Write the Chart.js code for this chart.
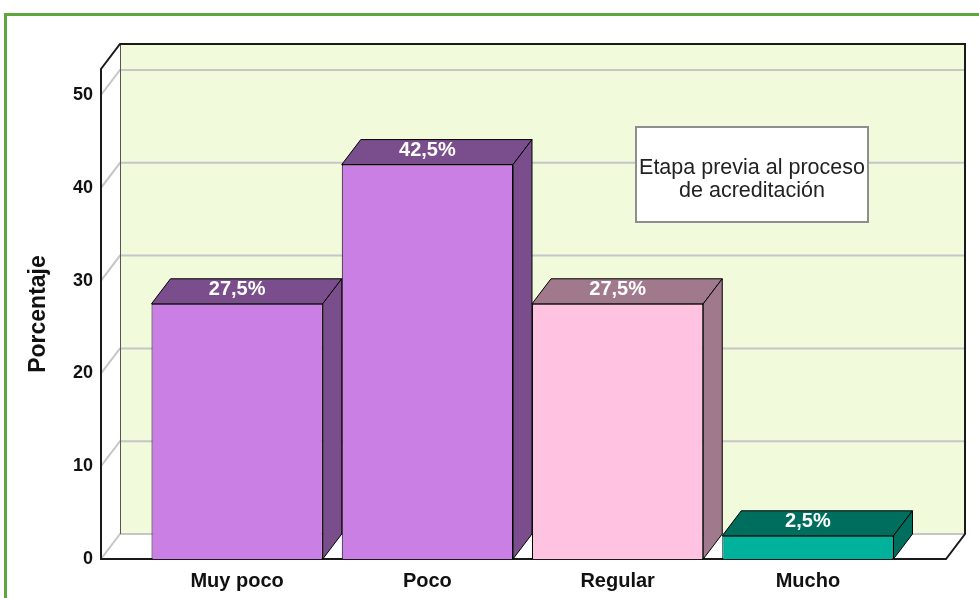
<!DOCTYPE html>
<html>
<head>
<meta charset="utf-8">
<script src="https://cdn.jsdelivr.net/npm/chart.js@4/dist/chart.umd.min.js"></script>
<style>
  html, body { margin: 0; padding: 0; background: #ffffff; overflow: hidden; }
  #c { display: block; }
</style>
</head>
<body>
<canvas id="c" width="979" height="598"></canvas>
<script>
// ---- data ----
const categories = ['Muy poco', 'Poco', 'Regular', 'Mucho'];
const percentages = [27.5, 42.5, 27.5, 2.5];
const valueLabels = ['27,5%', '42,5%', '27,5%', '2,5%'];
const yTicks = [0, 10, 20, 30, 40, 50];
const legendLines = ['Etapa previa al proceso', 'de acreditación'];
const axisTitle = 'Porcentaje';

// ---- styles ----
const frontColors = ['#C97FE3', '#C97FE3', '#FFC2E0', '#00B29B'];
const shadeColors = ['#7A4E8C', '#7A4E8C', '#A07A8C', '#006E5E'];
const FONT = "'Liberation Sans', Arial, sans-serif";
const DEPTH = { dx: 19, dy: -25 };
const EXT = { left: 41, right: 43 };

const box3d = {
  id: 'box3d',
  beforeDraw(chart) {
    const ctx = chart.ctx, a = chart.chartArea, ys = chart.scales.y;
    const fl = a.left - EXT.left, fr = a.right + EXT.right, ft = a.top, fb = a.bottom;
    const dx = DEPTH.dx, dy = DEPTH.dy;
    ctx.save();
    // outer green frame
    ctx.strokeStyle = '#5FA63C';
    ctx.lineWidth = 3;
    ctx.strokeRect(5.5, 14.5, 1100, 800);
    // back wall
    ctx.fillStyle = '#F1FADB';
    ctx.fillRect(fl + dx, ft + dy, fr - fl, fb - ft);
    // left wall
    ctx.fillStyle = '#ffffff';
    ctx.beginPath();
    ctx.moveTo(fl, ft); ctx.lineTo(fl + dx, ft + dy); ctx.lineTo(fl + dx, fb + dy); ctx.lineTo(fl, fb); ctx.closePath();
    ctx.fill();
    // floor
    ctx.beginPath();
    ctx.moveTo(fl, fb); ctx.lineTo(fl + dx, fb + dy); ctx.lineTo(fr + dx, fb + dy); ctx.lineTo(fr, fb); ctx.closePath();
    ctx.fill();
    // gridlines
    ctx.strokeStyle = '#C6C6C6';
    ctx.lineWidth = 2;
    yTicks.forEach(v => {
      const py = ys.getPixelForValue(v);
      ctx.beginPath();
      ctx.moveTo(fl, py); ctx.lineTo(fl + dx, py + dy); ctx.lineTo(fr + dx, py + dy);
      ctx.stroke();
    });
    // back-left edge
    ctx.strokeStyle = '#555555';
    ctx.lineWidth = 1;
    ctx.beginPath();
    ctx.moveTo(fl + dx + 0.5, ft + dy); ctx.lineTo(fl + dx + 0.5, fb + dy);
    ctx.stroke();
    // outline
    ctx.strokeStyle = '#1a1a1a';
    ctx.lineWidth = 2;
    ctx.beginPath();
    ctx.moveTo(fl, fb); ctx.lineTo(fl, ft); ctx.lineTo(fl + dx, ft + dy);
    ctx.lineTo(fr + dx, ft + dy); ctx.lineTo(fr + dx, fb + dy); ctx.lineTo(fr, fb); ctx.closePath();
    ctx.stroke();
    ctx.restore();
  },
  afterDatasetsDraw(chart) {
    const ctx = chart.ctx;
    const meta = chart.getDatasetMeta(0);
    const dx = DEPTH.dx, dy = DEPTH.dy;
    ctx.save();
    ctx.lineWidth = 1;
    ctx.strokeStyle = '#000000';
    ctx.lineJoin = 'round';
    meta.data.forEach((bar, i) => {
      const p = bar.getProps(['x', 'y', 'base', 'width'], true);
      const l = p.x - p.width / 2, r = p.x + p.width / 2, t = p.y, b = p.base;
      ctx.fillStyle = shadeColors[i];
      // top face
      ctx.beginPath();
      ctx.moveTo(l, t); ctx.lineTo(l + dx, t + dy); ctx.lineTo(r + dx, t + dy); ctx.lineTo(r, t); ctx.closePath();
      ctx.fill(); ctx.stroke();
      // side face
      ctx.beginPath();
      ctx.moveTo(r, t); ctx.lineTo(r + dx, t + dy); ctx.lineTo(r + dx, b + dy); ctx.lineTo(r, b); ctx.closePath();
      ctx.fill(); ctx.stroke();
      // value label
      ctx.fillStyle = '#ffffff';
      ctx.font = 'bold 20px ' + FONT;
      ctx.textAlign = 'center';
      ctx.textBaseline = 'middle';
      ctx.fillText(valueLabels[i], p.x, t + dy / 2 - 2);
    });
    ctx.restore();
  },
  afterDraw(chart) {
    const ctx = chart.ctx;
    ctx.save();
    ctx.fillStyle = '#ffffff';
    ctx.fillRect(636, 127, 232, 95);
    ctx.strokeStyle = '#8E8E8E';
    ctx.lineWidth = 2;
    ctx.strokeRect(636, 127, 232, 95);
    ctx.fillStyle = '#222222';
    ctx.font = '21.5px ' + FONT;
    ctx.textAlign = 'center';
    ctx.textBaseline = 'middle';
    legendLines.forEach((s, k) => ctx.fillText(s, 752, 168 + k * 23));
    ctx.restore();
  }
};

new Chart(document.getElementById('c'), {
  type: 'bar',
  data: {
    labels: categories,
    datasets: [{
      data: percentages,
      backgroundColor: frontColors,
      borderColor: '#000000',
      borderWidth: 1,
      barPercentage: 0.9,
      categoryPercentage: 1.0
    }]
  },
  options: {
    responsive: false,
    animation: false,
    layout: { padding: { left: 0, right: 76, top: 69, bottom: 0 } },
    plugins: { legend: { display: false }, tooltip: { enabled: false } },
    scales: {
      x: {
        grid: { display: false, drawTicks: false },
        border: { display: false },
        ticks: { color: '#111111', font: { family: FONT, size: 20, weight: 'bold' }, padding: 10, maxRotation: 0 },
        afterFit: s => { s.height = 39; }
      },
      y: {
        min: 0,
        max: 52.8,
        grid: { display: false, drawTicks: false },
        border: { display: false },
        afterBuildTicks: s => { s.ticks = yTicks.map(v => ({ value: v })); },
        ticks: { color: '#111111', font: { family: FONT, size: 18, weight: 'bold' }, padding: 49 },
        title: { display: true, text: axisTitle, color: '#111111', font: { family: FONT, size: 23, weight: 'bold' }, padding: { top: 25, bottom: 0 } },
        afterFit: s => { s.width = 142; s.paddingTop = 0; s.paddingBottom = 0; }
      }
    }
  },
  plugins: [box3d]
});
</script>
</body>
</html>
